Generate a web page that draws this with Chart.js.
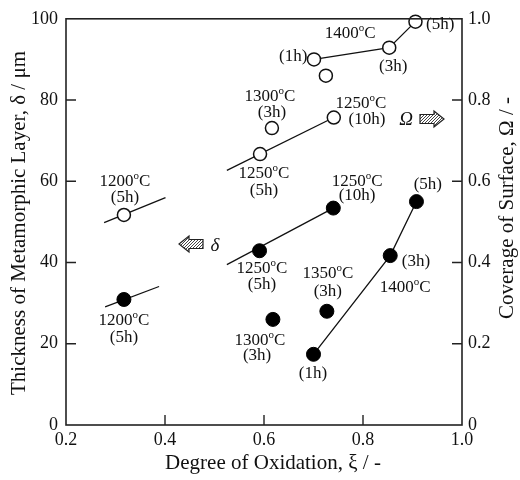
<!DOCTYPE html>
<html><head><meta charset="utf-8">
<script src="https://cdn.jsdelivr.net/npm/chart.js@4.4.0/dist/chart.umd.min.js"></script>
<style>html,body{margin:0;padding:0;background:#fff}</style>
</head><body>
<canvas id="c" width="520" height="480"></canvas>
<script>
// ---- data ----
const xTicks = [0.2, 0.4, 0.6, 0.8, 1.0];
const deltaTicks = [0, 20, 40, 60, 80, 100];
const omegaTicks = [0, 0.2, 0.4, 0.6, 0.8, 1.0];

// Coverage of surface (open circles, right axis)
const omegaX = [0.317, 0.592, 0.616, 0.741, 0.701, 0.725, 0.853, 0.906];
const omegaY = [0.517, 0.667, 0.731, 0.757, 0.900, 0.860, 0.929, 0.993];
// Thickness of metamorphic layer (filled circles, left axis)
const deltaX = [0.317, 0.591, 0.740, 0.618, 0.727, 0.700, 0.855, 0.908];
const deltaY = [30.9, 42.9, 53.4, 26.0, 28.0, 17.4, 41.7, 55.0];

// trend lines
const omegaLine1200X = [0.277, 0.401], omegaLine1200Y = [0.498, 0.560];
const omegaLine1250X = [0.525, 0.741], omegaLine1250Y = [0.627, 0.757];
const omegaLine1400X = [0.701, 0.853, 0.906], omegaLine1400Y = [0.900, 0.929, 0.993];
const deltaLine1200X = [0.279, 0.388], deltaLine1200Y = [29.1, 34.1];
const deltaLine1250X = [0.525, 0.740], deltaLine1250Y = [39.5, 53.4];
const deltaLine1400X = [0.700, 0.855, 0.908], deltaLine1400Y = [17.4, 41.7, 55.0];

// annotation texts (x in ξ, y in δ-axis units)
const noteText = ["1200°C","(5h)","1250°C","(5h)","1300°C","(3h)","1250°C","(10h)","1400°C","(1h)","(3h)","(5h)",
                  "1250°C","(10h)","(5h)","1200°C","(5h)","1250°C","(5h)","1300°C","(3h)","1350°C","(3h)","(3h)","1400°C","(1h)"];
const noteX = [0.319,0.319,0.600,0.600,0.612,0.616,0.796,0.808,0.774,0.659,0.861,0.956,
               0.788,0.788,0.931,0.317,0.317,0.596,0.596,0.592,0.586,0.729,0.729,0.907,0.885,0.699];
const noteY = [60.0,56.1,61.8,57.6,80.9,77.0,79.2,75.2,96.3,90.7,88.2,98.5,
               60.0,56.4,59.3,25.7,21.6,38.5,34.6,20.8,17.2,37.3,32.8,40.2,33.8,12.7];

const FONT = '"Liberation Serif", "DejaVu Serif", serif';

function pts(xs, ys){ return xs.map((x,i)=>({x:x, y:ys[i]})); }

function lineDs(xs, ys, axis){
  return {type:'line', data:pts(xs,ys), yAxisID:axis, showLine:true, borderColor:'#111', borderWidth:1.3,
          pointRadius:0, fill:false, tension:0, order:2, clip:false};
}

function drawNote(ctx, text, cx, cy, size){
  const parts = text.split('°');
  const segs = [];
  parts.forEach((p,i)=>{ if(i>0) segs.push({t:'o', sup:true}); if(p) segs.push({t:p, sup:false}); });
  const nf = size + 'px ' + FONT, sf = Math.round(size*0.62) + 'px ' + FONT;
  let w = 0;
  segs.forEach(s=>{ ctx.font = s.sup ? sf : nf; s.w = ctx.measureText(s.t).width; w += s.w; });
  let x = cx - w/2;
  ctx.textAlign = 'left'; ctx.textBaseline = 'middle'; ctx.fillStyle = '#111';
  segs.forEach(s=>{ ctx.font = s.sup ? sf : nf; ctx.fillText(s.t, x, s.sup ? cy - size*0.32 : cy); x += s.w; });
}

function arrowPath(ctx, cx, cy, dir){
  const L = 24, H = 16, h = 9, head = 10;
  const base = [[-L/2,-h/2],[L/2-head,-h/2],[L/2-head,-H/2],[L/2,0],[L/2-head,H/2],[L/2-head,h/2],[-L/2,h/2]];
  ctx.beginPath();
  base.forEach((p,i)=>{ const X = cx + dir*p[0], Y = cy + p[1]; if(i===0) ctx.moveTo(X,Y); else ctx.lineTo(X,Y); });
  ctx.closePath();
}

function drawArrow(ctx, cx, cy, dir){
  ctx.save();
  arrowPath(ctx, cx, cy, dir);
  ctx.fillStyle = '#fff'; ctx.fill();
  ctx.save(); ctx.clip();
  ctx.strokeStyle = '#444'; ctx.lineWidth = 1;
  for(let k = -30; k <= 30; k += 3){
    ctx.beginPath(); ctx.moveTo(cx + k - 10, cy + 10); ctx.lineTo(cx + k + 10, cy - 10); ctx.stroke();
  }
  ctx.restore();
  arrowPath(ctx, cx, cy, dir);
  ctx.lineWidth = 1.2; ctx.strokeStyle = '#222'; ctx.stroke();
  ctx.restore();
}

const decor = {
  id:'decor',
  afterDraw(chart){
    const ctx = chart.ctx, a = chart.chartArea;
    const sx = chart.scales.x, sy = chart.scales.y, sr = chart.scales.yR;
    ctx.save();
    // frame
    ctx.strokeStyle = '#222'; ctx.lineWidth = 1.6;
    ctx.strokeRect(a.left, a.top, a.right - a.left, a.bottom - a.top);
    // inward ticks
    ctx.lineWidth = 1.4;
    ctx.beginPath();
    xTicks.slice(1,-1).forEach(v=>{ const X = sx.getPixelForValue(v); ctx.moveTo(X, a.bottom); ctx.lineTo(X, a.bottom - 10); });
    deltaTicks.slice(1,-1).forEach(v=>{ const Y = sy.getPixelForValue(v); ctx.moveTo(a.left, Y); ctx.lineTo(a.left + 10, Y); });
    omegaTicks.slice(1,-1).forEach(v=>{ const Y = sr.getPixelForValue(v); ctx.moveTo(a.right, Y); ctx.lineTo(a.right - 10, Y); });
    ctx.stroke();
    // notes
    noteText.forEach((t,i)=>{ drawNote(ctx, t, sx.getPixelForValue(noteX[i]), sy.getPixelForValue(noteY[i]), 17); });
    // arrows and symbols
    drawArrow(ctx, 432, 119, 1);
    drawArrow(ctx, 191, 244, -1);
    ctx.fillStyle = '#111'; ctx.textAlign = 'center'; ctx.textBaseline = 'middle';
    ctx.font = 'italic 19px ' + FONT;
    ctx.fillText('Ω', 406, 120);
    ctx.fillText('δ', 215, 246);
    // axis titles
    ctx.font = '21px ' + FONT;
    ctx.fillText('Degree of Oxidation, ξ / -', 273, 463);
    ctx.save(); ctx.translate(19, 223); ctx.rotate(-Math.PI/2);
    ctx.fillText('Thickness of Metamorphic Layer, δ / μm', 0, 0); ctx.restore();
    ctx.save(); ctx.translate(507, 208); ctx.rotate(-Math.PI/2);
    ctx.fillText('Coverage of Surface, Ω / -', 0, 0); ctx.restore();
    ctx.restore();
  }
};

new Chart(document.getElementById('c'), {
  type:'scatter',
  data:{ datasets:[
    {data:pts(omegaX, omegaY), yAxisID:'yR', pointRadius:6.5, pointBackgroundColor:'#fff', pointBorderColor:'#111', pointBorderWidth:1.5, order:0, clip:false},
    {data:pts(deltaX, deltaY), yAxisID:'y', pointRadius:7, pointBackgroundColor:'#000', pointBorderColor:'#000', pointBorderWidth:1, order:0, clip:false},
    lineDs(omegaLine1200X, omegaLine1200Y, 'yR'),
    lineDs(omegaLine1250X, omegaLine1250Y, 'yR'),
    lineDs(omegaLine1400X, omegaLine1400Y, 'yR'),
    lineDs(deltaLine1200X, deltaLine1200Y, 'y'),
    lineDs(deltaLine1250X, deltaLine1250Y, 'y'),
    lineDs(deltaLine1400X, deltaLine1400Y, 'y')
  ]},
  options:{
    responsive:false, animation:false, devicePixelRatio:1,
    layout:{padding:{top:17, left:0, right:0, bottom:0}},
    plugins:{legend:{display:false}, tooltip:{enabled:false}},
    scales:{
      x:{type:'linear', min:0.2, max:1.0,
         afterBuildTicks(s){ s.ticks = xTicks.map(v=>({value:v})); },
         afterFit(s){ s.height = 55; },
         grid:{display:false, drawTicks:false}, border:{display:false},
         ticks:{padding:4, color:'#111', font:{family:FONT, size:18}, maxRotation:0, autoSkip:false,
                callback:(v)=>Number(v).toFixed(1)}},
      y:{type:'linear', position:'left', min:0, max:100,
         afterBuildTicks(s){ s.ticks = deltaTicks.map(v=>({value:v})); },
         afterFit(s){ s.width = 66; },
         grid:{display:false, drawTicks:false}, border:{display:false},
         ticks:{padding:8, color:'#111', font:{family:FONT, size:18}, autoSkip:false,
                callback:(v)=>String(v)}},
      yR:{type:'linear', position:'right', min:0, max:1,
         afterBuildTicks(s){ s.ticks = omegaTicks.map(v=>({value:v})); },
         afterFit(s){ s.width = 58; },
         grid:{display:false, drawTicks:false}, border:{display:false},
         ticks:{padding:6, color:'#111', font:{family:FONT, size:18}, autoSkip:false,
                callback:(v)=> v === 0 ? '0' : Number(v).toFixed(1)}}
    }
  },
  plugins:[decor]
});
</script>
</body></html>
